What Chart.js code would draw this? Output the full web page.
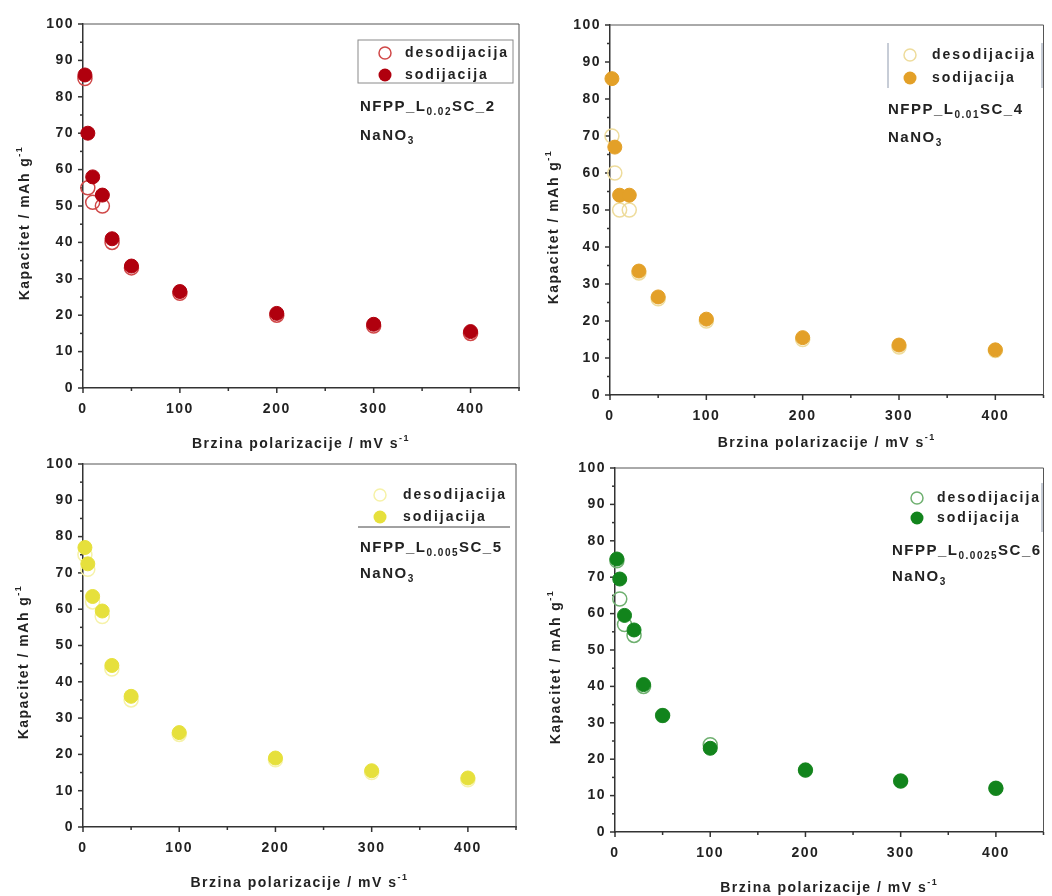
<!DOCTYPE html>
<html>
<head>
<meta charset="utf-8">
<script src="https://cdn.jsdelivr.net/npm/chart.js@4.4.0/dist/chart.umd.min.js"></script>
<style>
body { margin: 0; background: #fff; }
#wrap { position: relative; width: 1052px; height: 896px; }
#wrap canvas { position: absolute; left: 0; top: 0; }
</style>
</head>
<body>
<div id="wrap">
    <canvas id="c1" width="1052" height="896"></canvas>
    <canvas id="c2" width="1052" height="896"></canvas>
    <canvas id="c3" width="1052" height="896"></canvas>
    <canvas id="c4" width="1052" height="896"></canvas>
</div>
<script>
// brzina polarizacije (mV/s)
const rates = [2, 5, 10, 20, 30, 50, 100, 200, 300, 400];
const xTicks = [0, 100, 200, 300, 400];
const yTicks = [0, 10, 20, 30, 40, 50, 60, 70, 80, 90, 100];

// kapacitet (mAh/g)
const sod1 = [86, 70, 58, 53, 41, 33.5, 26.5, 20.5, 17.5, 15.5];
const desod1 = [85, 55, 51, 50, 40, 33, 26, 20, 17, 15];
const sod2 = [85.5, 67, 54, 54, 33.5, 26.5, 20.5, 15.5, 13.5, 12.2];
const desod2 = [70, 60, 50, 50, 33, 26, 20, 15, 13, 12];
const sod3 = [77, 72.5, 63.5, 59.5, 44.5, 36, 26, 19, 15.5, 13.5];
const desod3 = [75, 71, 62, 58, 43.5, 35, 25.5, 18.5, 15, 13];
const sod4 = [75, 69.5, 59.5, 55.5, 40.5, 32, 23, 17, 14, 12];
const desod4 = [74.5, 64, 57, 54, 40, 32, 24, 17, 14, 12];

const legendLabels = ['desodijacija', 'sodijacija'];
const sampleNames = [
    ['NFPP_L', '0.02', 'SC_2'],
    ['NFPP_L', '0.01', 'SC_4'],
    ['NFPP_L', '0.005', 'SC_5'],
    ['NFPP_L', '0.0025', 'SC_6']
];
const xTitle = 'Brzina polarizacije / mV s';
const yTitle = 'Kapacitet / mAh g';

const FONT = '"Liberation Sans", Arial, sans-serif';

const panels = [
    { id: 'c1', area: { l: 83, t: 24, r: 519, b: 388 }, sod: sod1, desod: desod1,
      fill: '#b0000e', open: '#d04848', name: 0, xt: 444, yt: { x: 25, y: 223 },
      leg: { mx: 385, tx: 405, y1: 53, y2: 75, box: [358, 40, 513, 83] },
      ann: { x: 360, y1: 107, y2: 136 } },
    { id: 'c2', area: { l: 610, t: 25, r: 1051, b: 395 }, sod: sod2, desod: desod2,
      fill: '#e3a028', open: '#eedc9c', name: 1, xt: 443, yt: { x: 554, y: 227 },
      leg: { mx: 910, tx: 932, y1: 55, y2: 78, bars: [[888, 43, 88], [1042, 43, 88]] },
      ann: { x: 888, y1: 110, y2: 138 } },
    { id: 'c3', area: { l: 83, t: 464, r: 516, b: 827 }, sod: sod3, desod: desod3,
      fill: '#e6e03c', open: '#f6f2a8', name: 2, xt: 883, yt: { x: 24, y: 662 },
      leg: { mx: 380, tx: 403, y1: 495, y2: 517, under: [358, 510, 527] },
      ann: { x: 360, y1: 548, y2: 574 } },
    { id: 'c4', area: { l: 615, t: 468, r: 1051, b: 832 }, sod: sod4, desod: desod4,
      fill: '#12841c', open: '#6fb070', name: 3, xt: 888, yt: { x: 556, y: 667 },
      leg: { mx: 917, tx: 937, y1: 498, y2: 518, bars: [[1042, 483, 532]] },
      ann: { x: 892, y1: 551, y2: 577 } }
];

const fontFor = (mode, size, weight) => {
    const s = mode ? Math.round(size * 0.65) : size;
    return `${weight} ${s}px ${FONT}`;
};

// text with sub/superscript pieces
const drawRich = (ctx, parts, x, y, size, align, weight = 'bold') => {
    let w = 0;
    parts.forEach(p => {
        ctx.font = fontFor(p[1], size, weight);
        w += ctx.measureText(p[0]).width;
    });
    let cx = align === 'center' ? x - w / 2 : x;
    parts.forEach(p => {
        ctx.font = fontFor(p[1], size, weight);
        const dy = p[1] === 'sub' ? size * 0.35 : p[1] === 'sup' ? -size * 0.4 : 0;
        ctx.fillText(p[0], cx, y + dy);
        cx += ctx.measureText(p[0]).width;
    });
};

const line = (ctx, x1, y1, x2, y2) => {
    ctx.beginPath();
    ctx.moveTo(x1, y1);
    ctx.lineTo(x2, y2);
    ctx.stroke();
};

const makePlugin = (p) => ({
    id: 'extras' + p.id,
    beforeDraw(chart) {
        chart.ctx.letterSpacing = '1.5px';
    },
    beforeDatasetsDraw(chart) {
        const { ctx, chartArea: a, scales } = chart;
        ctx.save();
        ctx.strokeStyle = '#555';
        ctx.lineWidth = 1;
        line(ctx, a.left, a.top, a.right, a.top);
        line(ctx, a.right, a.top, a.right, a.bottom);
        ctx.strokeStyle = '#333';
        ctx.lineWidth = 1.5;
        for (let v = 0; v <= 450; v += 50) {
            const px = scales.x.getPixelForValue(v);
            line(ctx, px, a.bottom, px, a.bottom + (v % 100 === 0 ? 5 : 3));
        }
        for (let v = 0; v <= 100; v += 5) {
            const py = scales.y.getPixelForValue(v);
            line(ctx, a.left - (v % 10 === 0 ? 5 : 3), py, a.left, py);
        }
        ctx.restore();
    },
    afterDraw(chart) {
        const ctx = chart.ctx;
        const a = chart.chartArea;
        ctx.save();
        ctx.letterSpacing = '1.5px';
        ctx.fillStyle = '#222';
        ctx.textBaseline = 'middle';

        // axis titles
        drawRich(ctx, [[xTitle, ''], ['-1', 'sup']], (a.left + a.right) / 2, p.xt, 14, 'center');
        ctx.save();
        ctx.translate(p.yt.x, p.yt.y);
        ctx.rotate(-Math.PI / 2);
        drawRich(ctx, [[yTitle, ''], ['-1', 'sup']], 0, 0, 14, 'center');
        ctx.restore();

        // legend
        const L = p.leg;
        ctx.strokeStyle = '#8a8a8a';
        ctx.lineWidth = 1;
        if (L.box) ctx.strokeRect(L.box[0], L.box[1], L.box[2] - L.box[0], L.box[3] - L.box[1]);
        if (L.bars) {
            ctx.strokeStyle = '#8f9aae';
            L.bars.forEach(b => line(ctx, b[0], b[1], b[0], b[2]));
        }
        if (L.under) {
            ctx.strokeStyle = '#444';
            line(ctx, L.under[0], L.under[2], L.under[1], L.under[2]);
        }
        ctx.beginPath();
        ctx.arc(L.mx, L.y1, 6, 0, Math.PI * 2);
        ctx.strokeStyle = p.open;
        ctx.lineWidth = 1.5;
        ctx.stroke();
        ctx.beginPath();
        ctx.arc(L.mx, L.y2, 6.5, 0, Math.PI * 2);
        ctx.fillStyle = p.fill;
        ctx.fill();
        ctx.fillStyle = '#222';
        ctx.letterSpacing = '2px';
        ctx.font = `bold 14px ${FONT}`;
        ctx.fillText(legendLabels[0], L.tx, L.y1);
        ctx.fillText(legendLabels[1], L.tx, L.y2);

        // sample annotation
        ctx.letterSpacing = '1.5px';
        const n = sampleNames[p.name];
        drawRich(ctx, [[n[0], ''], [n[1], 'sub'], [n[2], '']], p.ann.x, p.ann.y1, 15, 'left');
        drawRich(ctx, [['NaNO', ''], ['3', 'sub']], p.ann.x, p.ann.y2, 15, 'left');
        ctx.restore();
    }
});

const buildPanel = (p) => {
    const pts = (arr) => rates.map((x, i) => ({ x: x, y: arr[i] }));
    const tickFont = { family: FONT, size: 14, weight: 'bold' };
    const config = {
        type: 'scatter',
        data: {
            datasets: [
                {
                    label: legendLabels[1],
                    data: pts(p.sod),
                    pointRadius: 7,
                    backgroundColor: p.fill,
                    borderColor: p.fill,
                    borderWidth: 1,
                    clip: false,
                    order: 1
                },
                {
                    label: legendLabels[0],
                    data: pts(p.desod),
                    pointRadius: 7,
                    backgroundColor: 'rgba(255,255,255,0)',
                    borderColor: p.open,
                    borderWidth: 1.5,
                    clip: false,
                    order: 2
                }
            ]
        },
        options: {
            responsive: false,
            animation: false,
            events: [],
            layout: {
                padding: {
                    left: p.area.l - 40,
                    top: p.area.t,
                    right: 1052 - p.area.r,
                    bottom: 896 - p.area.b - 40
                }
            },
            plugins: {
                legend: { display: false },
                tooltip: { enabled: false }
            },
            scales: {
                x: {
                    type: 'linear',
                    min: 0,
                    max: 450,
                    afterBuildTicks: s => { s.ticks = xTicks.map(v => ({ value: v })); },
                    afterFit: s => { s.height = 40; },
                    grid: { display: false, drawTicks: false },
                    border: { display: true, color: '#333', width: 1.5 },
                    ticks: { padding: 13, color: '#222', font: tickFont, maxRotation: 0 }
                },
                y: {
                    type: 'linear',
                    min: 0,
                    max: 100,
                    afterBuildTicks: s => { s.ticks = yTicks.map(v => ({ value: v })); },
                    afterFit: s => { s.width = 40; },
                    grid: { display: false, drawTicks: false },
                    border: { display: true, color: '#333', width: 1.5 },
                    ticks: { padding: 9, color: '#222', font: tickFont }
                }
            }
        },
        plugins: [makePlugin(p)]
    };
    return new Chart(document.getElementById(p.id), config);
};

panels.forEach(buildPanel);
</script>
</body>
</html>
